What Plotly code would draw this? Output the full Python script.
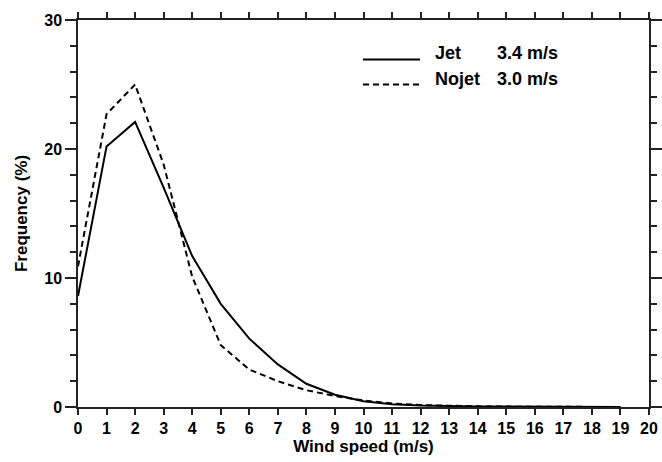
import plotly.graph_objects as go

wind_speed = list(range(0, 20))
jet = [8.6, 20.2, 22.1, 17.0, 11.7, 8.0, 5.3, 3.3, 1.8, 0.95, 0.45, 0.22, 0.12, 0.07, 0.04, 0.03, 0.02, 0.01, 0.01, 0.0]
nojet = [10.9, 22.7, 25.0, 18.8, 10.1, 4.8, 2.9, 2.0, 1.3, 0.85, 0.5, 0.28, 0.15, 0.08, 0.05, 0.03, 0.02, 0.01, 0.01, 0.0]
series_names = ["Jet", "Nojet"]
series_means = ["3.4 m/s", "3.0 m/s"]

FONT = "Liberation Sans, Arial, sans-serif"

fig = go.Figure()
fig.add_trace(go.Scatter(x=wind_speed, y=jet, mode="lines", name="Jet",
                         line=dict(color="black", width=2), showlegend=False))
fig.add_trace(go.Scatter(x=wind_speed, y=nojet, mode="lines", name="Nojet",
                         line=dict(color="black", width=2, dash="6px,4px"), showlegend=False))

L, R, T, B = 78, 13, 20, 55
W, H = 662, 462
pw, ph = W - L - R, H - T - B

def px_x(p):
    return (p - L) / pw

def px_y(p):
    return (H - B - p) / ph

# legend (manual)
leg_rows = [59.5, 84.5]
dashes = ["solid", "6px,4px"]
for i, (yy, d) in enumerate(zip(leg_rows, dashes)):
    fig.add_shape(type="line", xref="paper", yref="paper",
                  x0=px_x(363), x1=px_x(420), y0=px_y(yy), y1=px_y(yy),
                  line=dict(color="black", width=2, dash=d))
    fig.add_annotation(xref="paper", yref="paper", x=px_x(433), y=px_y(yy - 6),
                       text="<b>%s</b>" % series_names[i], showarrow=False,
                       xanchor="left", yanchor="middle",
                       font=dict(family=FONT, size=18, color="black"))
    fig.add_annotation(xref="paper", yref="paper", x=px_x(495), y=px_y(yy - 6),
                       text="<b>%s</b>" % series_means[i], showarrow=False,
                       xanchor="left", yanchor="middle",
                       font=dict(family=FONT, size=18, color="black"))

axis_common = dict(showline=True, linecolor="#222", linewidth=1.5, mirror="ticks",
                   ticks="outside", tickcolor="#222", tickwidth=1.5,
                   showgrid=False, zeroline=False,
                   tickfont=dict(family=FONT, size=16, color="black", weight="bold"))

fig.update_xaxes(range=[0, 20], dtick=1, tick0=0, ticklen=6,
                 title=dict(text="<b>Wind speed (m/s)</b>", standoff=4,
                            font=dict(family=FONT, size=17, color="black")),
                 **axis_common)
fig.update_yaxes(range=[0, 30], dtick=10, tick0=0, ticklen=11,
                 minor=dict(dtick=2, tick0=0, ticklen=6, ticks="outside", tickcolor="#222",
                            tickwidth=1.5, showgrid=False),
                 title=dict(text="<b>Frequency (%)</b>", standoff=12,
                            font=dict(family=FONT, size=17, color="black")),
                 **axis_common)

fig.update_layout(width=W, height=H, margin=dict(l=L, r=R, t=T, b=B, autoexpand=False),
                  plot_bgcolor="white", paper_bgcolor="white",
                  font=dict(family=FONT, color="black"))

fig.write_html("out.html")
